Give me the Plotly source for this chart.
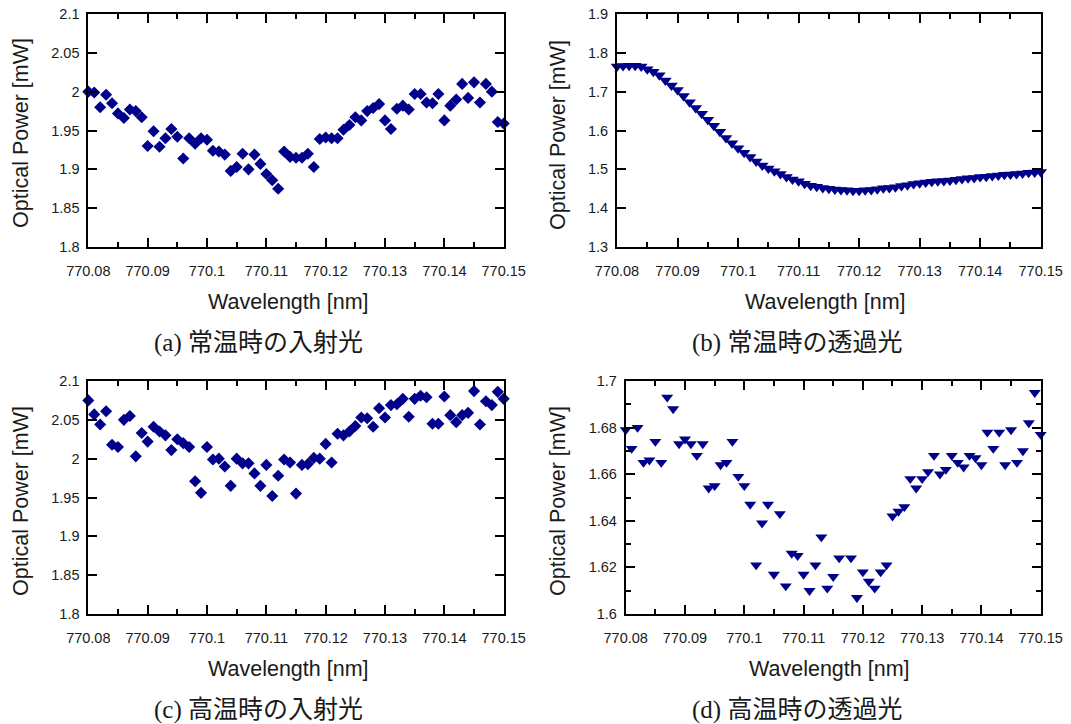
import plotly.graph_objects as go

# ---------------- data ----------------
WAVELENGTH = [770.080, 770.081, 770.082, 770.083, 770.084, 770.085, 770.086, 770.087, 770.088, 770.089,
              770.090, 770.091, 770.092, 770.093, 770.094, 770.095, 770.096, 770.097, 770.098, 770.099,
              770.100, 770.101, 770.102, 770.103, 770.104, 770.105, 770.106, 770.107, 770.108, 770.109,
              770.110, 770.111, 770.112, 770.113, 770.114, 770.115, 770.116, 770.117, 770.118, 770.119,
              770.120, 770.121, 770.122, 770.123, 770.124, 770.125, 770.126, 770.127, 770.128, 770.129,
              770.130, 770.131, 770.132, 770.133, 770.134, 770.135, 770.136, 770.137, 770.138, 770.139,
              770.140, 770.141, 770.142, 770.143, 770.144, 770.145, 770.146, 770.147, 770.148, 770.149,
              770.150]

# (a) room temperature, incident light
POWER_A = [2.000, 1.999, 1.980, 1.996, 1.985, 1.972, 1.966, 1.977, 1.975, 1.967,
           1.930, 1.949, 1.929, 1.940, 1.952, 1.942, 1.914, 1.940, 1.933, 1.940,
           1.938, 1.924, 1.923, 1.919, 1.898, 1.903, 1.920, 1.900, 1.919, 1.907,
           1.894, 1.886, 1.875, 1.923, 1.916, 1.915, 1.915, 1.920, 1.903, 1.939,
           1.941, 1.940, 1.940, 1.951, 1.957, 1.967, 1.963, 1.975, 1.979, 1.984,
           1.963, 1.952, 1.978, 1.982, 1.977, 1.997, 1.997, 1.986, 1.985, 1.997,
           1.963, 1.982, 1.990, 2.010, 1.992, 2.012, 1.986, 2.010, 2.000, 1.961,
           1.959]

# (b) room temperature, transmitted light
POWER_B = [1.765, 1.766, 1.767, 1.767, 1.765, 1.758, 1.751, 1.742, 1.729, 1.716,
           1.704, 1.689, 1.673, 1.658, 1.643, 1.628, 1.612, 1.597, 1.581, 1.567,
           1.554, 1.543, 1.532, 1.520, 1.510, 1.502, 1.495, 1.488, 1.480, 1.474,
           1.469, 1.463, 1.458, 1.455, 1.452, 1.450, 1.448, 1.447, 1.446, 1.445,
           1.445, 1.446, 1.447, 1.449, 1.451, 1.452, 1.454, 1.457, 1.459, 1.462,
           1.464, 1.466, 1.468, 1.469, 1.470, 1.471, 1.473, 1.475, 1.477, 1.478,
           1.480, 1.481, 1.483, 1.484, 1.486, 1.487, 1.488, 1.489, 1.491, 1.492,
           1.493]

# (c) high temperature, incident light
POWER_C = [2.075, 2.057, 2.044, 2.061, 2.018, 2.015, 2.050, 2.055, 2.003, 2.033,
           2.022, 2.041, 2.035, 2.030, 2.011, 2.025, 2.020, 2.015, 1.971, 1.956,
           2.015, 1.999, 2.000, 1.990, 1.965, 2.000, 1.994, 1.994, 1.981, 1.965,
           1.992, 1.952, 1.978, 1.999, 1.995, 1.955, 1.992, 1.993, 2.001, 2.000,
           2.019, 1.995, 2.032, 2.030, 2.035, 2.042, 2.053, 2.052, 2.041, 2.065,
           2.053, 2.069, 2.070, 2.077, 2.054, 2.077, 2.081, 2.079, 2.045, 2.045,
           2.080, 2.056, 2.047, 2.056, 2.059, 2.087, 2.044, 2.074, 2.069, 2.086,
           2.077]

# (d) high temperature, transmitted light
POWER_D = [1.679, 1.671, 1.680, 1.665, 1.666, 1.674, 1.665, 1.693, 1.688, 1.673,
           1.675, 1.673, 1.668, 1.673, 1.654, 1.655, 1.664, 1.665, 1.674, 1.659,
           1.655, 1.647, 1.621, 1.639, 1.647, 1.617, 1.643, 1.612, 1.626, 1.625,
           1.617, 1.610, 1.621, 1.633, 1.611, 1.616, 1.624, None, 1.624, 1.607,
           1.618, 1.614, 1.611, 1.618, 1.621, 1.642, 1.644, 1.646, 1.658, 1.654,
           1.658, 1.661, 1.668, 1.660, 1.662, 1.668, 1.665, 1.663, 1.668, 1.667,
           1.664, 1.678, 1.671, 1.678, 1.664, 1.679, 1.665, 1.670, 1.682, 1.695,
           1.677]

X_TICKS = [770.08, 770.09, 770.10, 770.11, 770.12, 770.13, 770.14, 770.15]
X_TEXT = ["770.08", "770.09", "770.1", "770.11", "770.12", "770.13", "770.14", "770.15"]

Y_TICKS_AC = [1.80, 1.85, 1.90, 1.95, 2.00, 2.05, 2.10]
Y_TEXT_AC = ["1.8", "1.85", "1.9", "1.95", "2", "2.05", "2.1"]
Y_TICKS_B = [1.3, 1.4, 1.5, 1.6, 1.7, 1.8, 1.9]
Y_TEXT_B = ["1.3", "1.4", "1.5", "1.6", "1.7", "1.8", "1.9"]
Y_TICKS_D = [1.60, 1.62, 1.64, 1.66, 1.68, 1.70]
Y_TEXT_D = ["1.6", "1.62", "1.64", "1.66", "1.68", "1.7"]

CAPTIONS = ["(a) 常温時の入射光", "(b) 常温時の透過光", "(c) 高温時の入射光", "(d) 高温時の透過光"]
X_TITLE = "Wavelength [nm]"
Y_TITLE = "Optical Power [mW]"

# ---------------- layout ----------------
PAGE_W, PAGE_H = 1071, 724
OFF = 8                      # default body margin of the html page
W, H = PAGE_W - OFF, PAGE_H - OFF
NAVY = "#00008B"
TICK_FONT = dict(family="Liberation Sans, Arial, sans-serif", size=14.5, color="#1a1a1a")
TITLE_FONT = dict(family="Liberation Sans, Arial, sans-serif", size=21.5, color="#1a1a1a")
CAP_FONT = dict(family="Liberation Serif, Noto Sans CJK JP, serif", size=25, color="#1a1a1a")


def fx(px):
    return (px - OFF) / W


def fy(py):
    return 1 - (py - OFF) / H


panels = [
    dict(y=POWER_A, symbol="diamond", size=9.3, box=(88.3, 503.7, 14, 247),
         yr=(1.8, 2.1), yt=Y_TICKS_AC, ytx=Y_TEXT_AC, yminor=None,
         ytitle=(21, 133), xtitle=(288, 302), cap=(258, 343)),
    dict(y=POWER_B, symbol="triangle-down", size=11.0, box=(617.0, 1040.7, 14, 247),
         yr=(1.3, 1.9), yt=Y_TICKS_B, ytx=Y_TEXT_B, yminor=None,
         ytitle=(558, 135), xtitle=(825, 302), cap=(797, 343)),
    dict(y=POWER_C, symbol="diamond", size=9.3, box=(88.3, 503.7, 381, 614),
         yr=(1.8, 2.1), yt=Y_TICKS_AC, ytx=Y_TEXT_AC, yminor=None,
         ytitle=(21, 501), xtitle=(288, 669), cap=(258, 710)),
    dict(y=POWER_D, symbol="triangle-down", size=10.5, box=(625.7, 1040.7, 381, 614),
         yr=(1.6, 1.7), yt=Y_TICKS_D, ytx=Y_TEXT_D, yminor=0.01,
         ytitle=(558, 501), xtitle=(829, 669), cap=(797, 710)),
]

fig = go.Figure()
annotations = []
for i, p in enumerate(panels, start=1):
    sfx = "" if i == 1 else str(i)
    x0, x1, ytop, ybot = p["box"]
    fig.add_trace(go.Scatter(
        x=WAVELENGTH, y=p["y"], mode="markers",
        marker=dict(symbol=p["symbol"], size=p["size"], color=NAVY, line=dict(width=0)),
        xaxis="x" + sfx, yaxis="y" + sfx, cliponaxis=False, showlegend=False,
    ))
    axis_common = dict(showline=True, linecolor="black", linewidth=1.8, mirror="allticks",
                       ticks="inside", ticklen=9, tickwidth=1.5, tickcolor="black",
                       showgrid=False, zeroline=False, tickfont=TICK_FONT, tickmode="array",
                       automargin=False, ticklabeloverflow="allow")
    xa = dict(axis_common, domain=[fx(x0), fx(x1)], range=[770.08, 770.15],
              tickvals=X_TICKS, ticktext=X_TEXT, anchor="y" + sfx, ticklabelstandoff=10,
              minor=dict(tickmode="linear", tick0=770.08, dtick=0.005, ticks="inside",
                         ticklen=5, tickwidth=1.5, tickcolor="black", showgrid=False))
    ya = dict(axis_common, domain=[fy(ybot), fy(ytop)], range=list(p["yr"]),
              tickvals=p["yt"], ticktext=p["ytx"], anchor="x" + sfx, ticklabelstandoff=4)
    if p["yminor"]:
        ya["minor"] = dict(tickmode="linear", tick0=p["yr"][0], dtick=p["yminor"], ticks="inside",
                           ticklen=5, tickwidth=1.5, tickcolor="black", showgrid=False)
    fig.layout["xaxis" + sfx] = xa
    fig.layout["yaxis" + sfx] = ya

    annotations.append(dict(text=Y_TITLE, x=fx(p["ytitle"][0]), y=fy(p["ytitle"][1]),
                            xref="paper", yref="paper", textangle=-90, showarrow=False,
                            xanchor="center", yanchor="middle", font=TITLE_FONT))
    annotations.append(dict(text=X_TITLE, x=fx(p["xtitle"][0]), y=fy(p["xtitle"][1]),
                            xref="paper", yref="paper", showarrow=False,
                            xanchor="center", yanchor="middle", font=TITLE_FONT))
    annotations.append(dict(text=CAPTIONS[i - 1], x=fx(p["cap"][0]), y=fy(p["cap"][1]),
                            xref="paper", yref="paper", showarrow=False,
                            xanchor="center", yanchor="middle", font=CAP_FONT))

fig.update_layout(width=W, height=H, margin=dict(l=0, r=0, t=0, b=0, autoexpand=False),
                  paper_bgcolor="white", plot_bgcolor="white", annotations=annotations)

fig.write_html("out.html")
